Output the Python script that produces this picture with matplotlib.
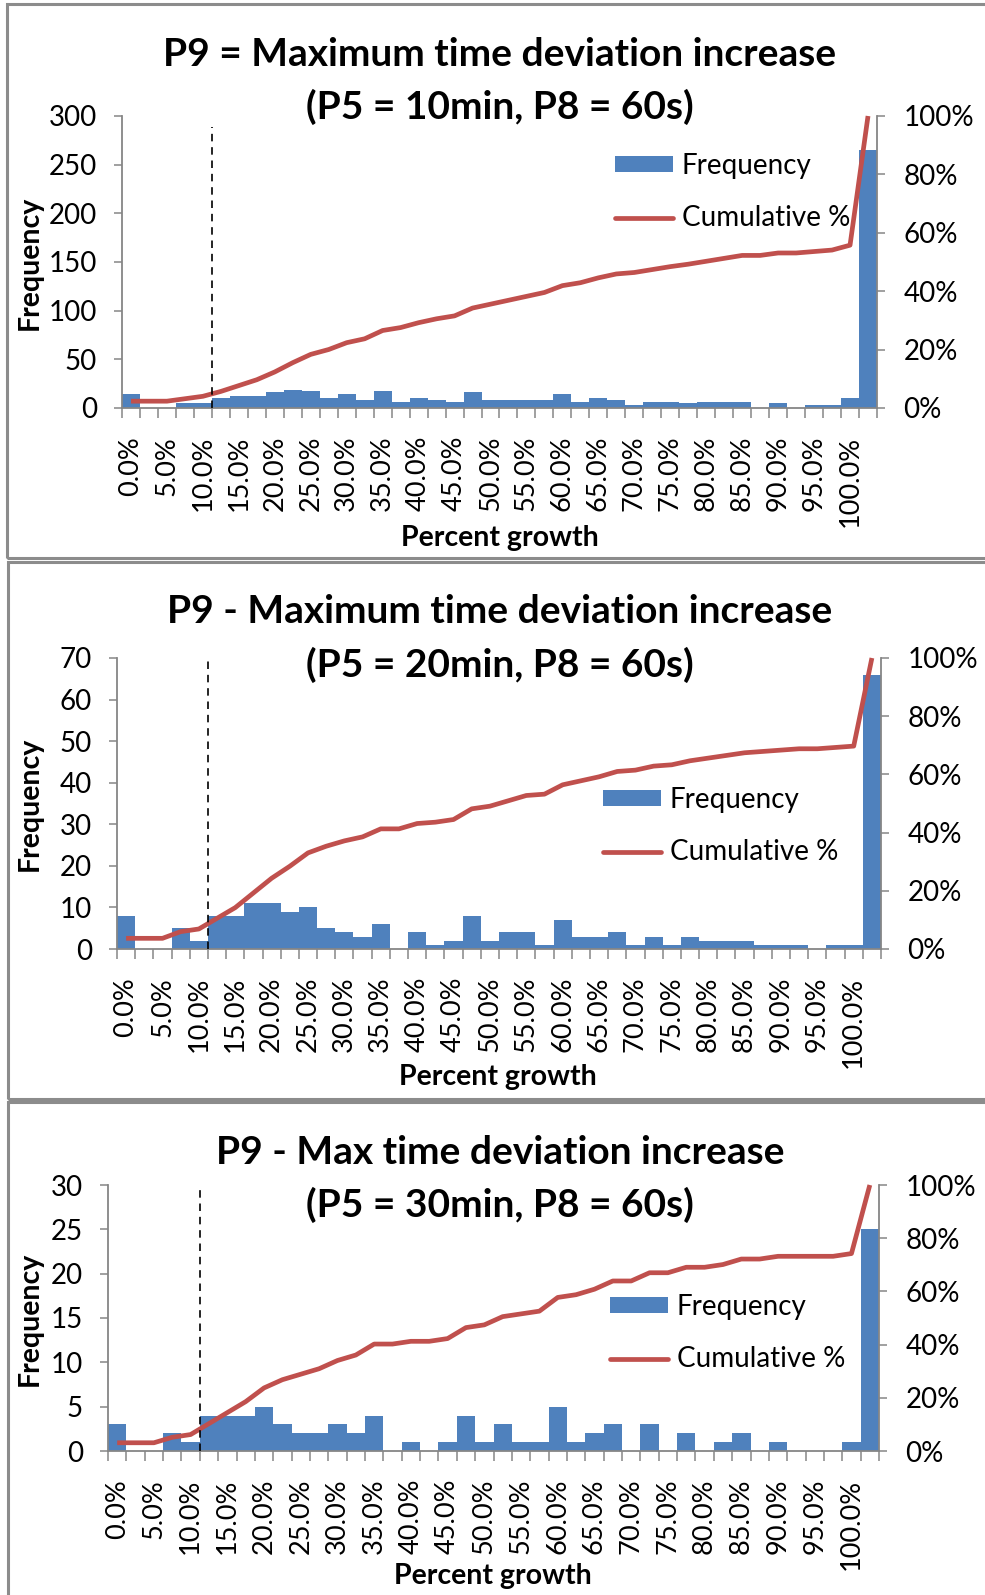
import numpy as np
import matplotlib
matplotlib.use("Agg")
import matplotlib.pyplot as plt
from matplotlib import font_manager
from matplotlib.patches import Rectangle, Patch
from matplotlib.lines import Line2D
from matplotlib.ticker import MultipleLocator, PercentFormatter, FixedLocator

# ---------------------------------------------------------------------------
# Data: histogram counts per 2.5 % bin (0.0 % ... 100.0 %, then "More")
# ---------------------------------------------------------------------------
tick_labels = ["0.0%", "5.0%", "10.0%", "15.0%", "20.0%", "25.0%", "30.0%",
               "35.0%", "40.0%", "45.0%", "50.0%", "55.0%", "60.0%", "65.0%",
               "70.0%", "75.0%", "80.0%", "85.0%", "90.0%", "95.0%", "100.0%"]

freq_p5_10 = [14, 0, 0, 5, 5, 10, 12, 12, 16, 19, 17, 10, 14, 8, 17, 6, 10, 8,
              6, 16, 8, 8, 8, 8, 14, 6, 10, 8, 3, 6, 6, 5, 6, 6, 6, 0, 5, 0,
              3, 3, 10, 265]

freq_p5_20 = [8, 0, 0, 5, 2, 8, 8, 11, 11, 9, 10, 5, 4, 3, 6, 0, 4, 1, 2, 8,
              2, 4, 4, 1, 7, 3, 3, 4, 1, 3, 1, 3, 2, 2, 2, 1, 1, 1, 0, 1, 1, 66]

freq_p5_30 = [3, 0, 0, 2, 1, 4, 4, 4, 5, 3, 2, 2, 3, 2, 4, 0, 1, 0, 1, 4, 1, 3,
              1, 1, 5, 1, 2, 3, 0, 3, 0, 2, 0, 1, 2, 0, 1, 0, 0, 0, 1, 25]

titles = [("P9 = Maximum time deviation increase", "(P5 = 10min, P8 = 60s)"),
          ("P9 - Maximum time deviation increase", "(P5 = 20min, P8 = 60s)"),
          ("P9 - Max time deviation increase", "(P5 = 30min, P8 = 60s)")]

threshold_bin = 4.5   # 10 % marker between the 10.0 % and 12.5 % bins

# ---------------------------------------------------------------------------
# Styling
# ---------------------------------------------------------------------------
W, H, DPI = 985, 1595, 100
BAR = "#4F81BD"
LINE = "#C0504D"
AXIS = "#868686"
FRAME = "#8C8C8C"
LINE_W = 3.4


def pick_font(*names):
    for n in names:
        try:
            font_manager.findfont(n, fallback_to_default=False)
            return n
        except Exception:
            continue
    return "DejaVu Sans"


FONT = pick_font("Lato", "Open Sans", "DejaVu Sans")
plt.rcParams["font.family"] = [FONT, "DejaVu Sans"]

fig = plt.figure(figsize=(W / DPI, H / DPI), dpi=DPI, facecolor="white")


def fx(x):
    return x / W


def fy(y):
    return 1 - y / H


def frame(x0, y0, x1, y1):
    fig.add_artist(Rectangle((fx(x0), fy(y1)), (x1 - x0) / W, (y1 - y0) / H,
                             transform=fig.transFigure, fill=False,
                             edgecolor=FRAME, linewidth=2.2, zorder=0))


def panel(freq, ymax, ystep, box, title, title_y, legend_xy, ylabel_xy,
          xlabel_xy, dash_top):
    x0, y0, x1, y1 = box
    ax = fig.add_axes([fx(x0), fy(y1), (x1 - x0) / W, (y1 - y0) / H])
    ax2 = ax.twinx()
    ax.set_zorder(1)
    ax2.set_zorder(2)
    ax.patch.set_visible(False)
    ax2.patch.set_visible(False)

    n = len(freq)
    x = np.arange(n)
    counts = np.asarray(freq, dtype=float)
    cum = np.cumsum(counts) / counts.sum()

    ax.bar(x, counts, width=1.0, color=BAR, linewidth=0, zorder=2)
    ax2.plot(x, cum, color=LINE, linewidth=LINE_W, solid_capstyle="butt",
             solid_joinstyle="round", clip_on=False, zorder=3)
    ax2.axvline(threshold_bin, ymin=0, ymax=dash_top, color="black",
                linewidth=1.2, linestyle=(0, (4.5, 3.5)), zorder=4)

    ax.set_xlim(-0.5, n - 0.5)
    ax.set_ylim(0, ymax)
    ax2.set_ylim(0, 1)

    # x axis: labels on every other bin, tick marks at every bin edge
    ax.xaxis.set_major_locator(FixedLocator(np.arange(0, n - 1, 2)))
    ax.set_xticklabels(tick_labels, rotation=90, fontsize=19.5)
    ax.xaxis.set_minor_locator(FixedLocator(np.arange(-0.5, n, 1.0)))
    ax.tick_params(axis="x", which="major", length=0, pad=20)
    ax.tick_params(axis="x", which="minor", length=7, width=1.1, color=AXIS)

    ax.yaxis.set_major_locator(MultipleLocator(ystep))
    ax.tick_params(axis="y", which="major", length=6, width=1.1, color=AXIS,
                   labelsize=20, pad=12)
    ax2.yaxis.set_major_locator(MultipleLocator(0.2))
    ax2.yaxis.set_major_formatter(PercentFormatter(1.0, decimals=0))
    ax2.tick_params(axis="y", which="major", length=6, width=1.1, color=AXIS,
                    labelsize=20, pad=13)

    for s in ("top", "right"):
        ax.spines[s].set_visible(False)
    for s in ("top", "left", "bottom"):
        ax2.spines[s].set_visible(False)
    for a, s in ((ax, "left"), (ax, "bottom"), (ax2, "right")):
        a.spines[s].set_color(AXIS)
        a.spines[s].set_linewidth(1.3)

    fig.text(fx(500), fy(title_y[0]), title[0], ha="center", va="center",
             fontsize=28, fontweight="bold")
    fig.text(fx(500), fy(title_y[1]), title[1], ha="center", va="center",
             fontsize=28, fontweight="bold")
    fig.text(fx(ylabel_xy[0]), fy(ylabel_xy[1]), "Frequency", rotation=90,
             ha="center", va="center", fontsize=20.5, fontweight="bold")
    fig.text(fx(xlabel_xy[0]), fy(xlabel_xy[1]), "Percent growth",
             ha="center", va="center", fontsize=20.5, fontweight="bold")

    handles = [Patch(facecolor=BAR, edgecolor="none"),
               Line2D([], [], color=LINE, linewidth=LINE_W,
                      solid_capstyle="round")]
    fig.legend(handles, ["Frequency", "Cumulative %"], loc="upper left",
               bbox_to_anchor=(fx(legend_xy[0]), fy(legend_xy[1])),
               bbox_transform=fig.transFigure, frameon=False, fontsize=20,
               handlelength=2.1, handleheight=0.5, handletextpad=0.3,
               labelspacing=0.95, borderpad=0, borderaxespad=0)
    return ax, ax2


# Panel frames
frame(7, 4, 1010, 558)
frame(8, 562, 1010, 1099)
frame(8, 1102, 1010, 1620)

panel(freq_p5_10, 300, 50, (122, 116, 877, 408), titles[0], (55, 107),
      (615, 153), (30, 263), (500, 538), 0.963)
panel(freq_p5_20, 70, 10, (117, 658, 881, 949), titles[1], (612, 665),
      (603, 787), (30, 804), (498, 1077), 1.0)
panel(freq_p5_30, 30, 5, (108, 1185, 879, 1451), titles[2], (1152, 1205),
      (610, 1294), (30, 1319), (493, 1576), 1.0)

fig.savefig("out.png", dpi=DPI, facecolor="white")
